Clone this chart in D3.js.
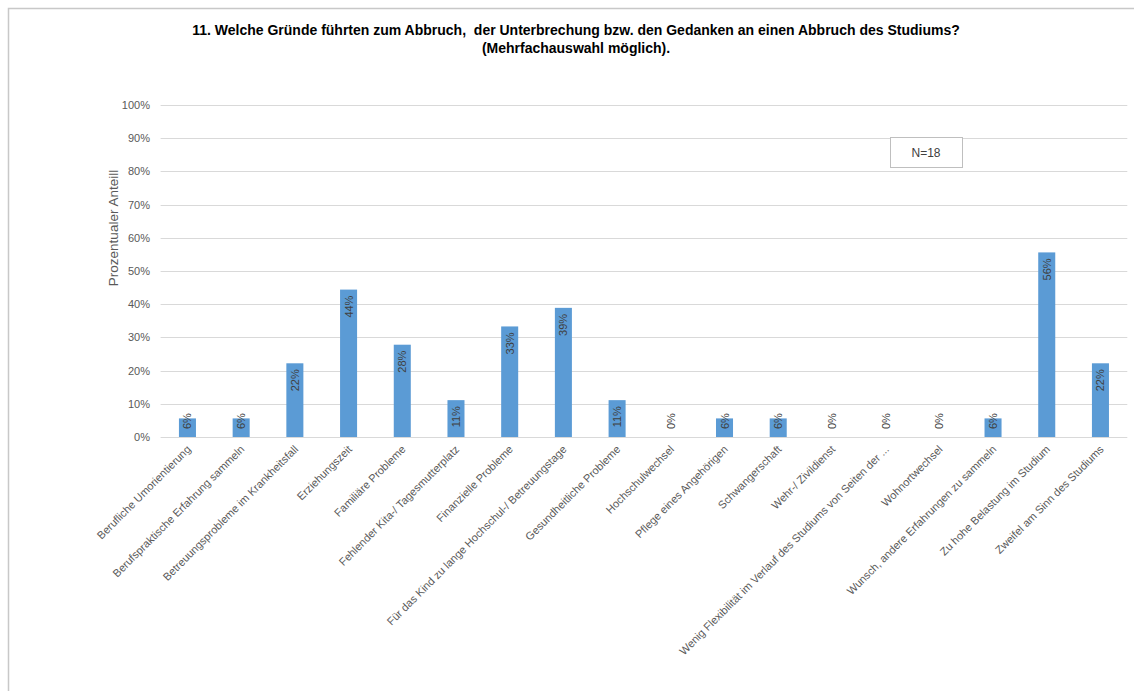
<!DOCTYPE html>
<html>
<head>
<meta charset="utf-8">
<script src="https://cdn.jsdelivr.net/npm/d3@7"></script>
<style>
  html, body { margin: 0; padding: 0; background: #fff; }
  svg { display: block; }
</style>
</head>
<body>
<svg id="chart" width="1134" height="691"></svg>
<script>
const categories = [
  "Berufliche Umorientierung",
  "Berufspraktische Erfahrung sammeln",
  "Betreuungsprobleme im Krankheitsfall",
  "Erziehungszeit",
  "Familiäre Probleme",
  "Fehlender Kita-/ Tagesmutterplatz",
  "Finanzielle Probleme",
  "Für das Kind zu lange Hochschul-/ Betreuungstage",
  "Gesundheitliche Probleme",
  "Hochschulwechsel",
  "Pflege eines Angehörigen",
  "Schwangerschaft",
  "Wehr-/ Zivildienst",
  "Wenig Flexibilität im Verlauf des Studiums von Seiten der ...",
  "Wohnortwechsel",
  "Wunsch, andere Erfahrungen zu sammeln",
  "Zu hohe Belastung im Studium",
  "Zweifel am Sinn des Studiums"
];
const values = [5.6, 5.6, 22.2, 44.4, 27.8, 11.1, 33.3, 38.9, 11.1, 0, 5.6, 5.6, 0, 0, 0, 5.6, 55.6, 22.2];
const valueLabels = ["6%","6%","22%","44%","28%","11%","33%","39%","11%","0%","6%","6%","0%","0%","0%","6%","56%","22%"];
const yTicks = [0, 10, 20, 30, 40, 50, 60, 70, 80, 90, 100];
const titleLines = [
  "11. Welche Gründe führten zum Abbruch,  der Unterbrechung bzw. den Gedanken an einen Abbruch des Studiums?",
  "(Mehrfachauswahl möglich)."
];
const yAxisTitle = "Prozentualer Anteill";
const noteText = "N=18";

const svg = d3.select("#chart");
const font = "'Liberation Sans', Arial, sans-serif";

// outer frame
svg.append("path")
  .attr("d", "M8.5,691 V8.5 H1134")
  .attr("fill", "none").attr("stroke", "#c8c8c8").attr("stroke-width", 1.5);

const x = d3.scaleBand().domain(categories).range([160.6, 1127.3]).paddingInner(0.683).paddingOuter(0.3415);
const y = d3.scaleLinear().domain([0, 100]).range([437, 105]);

// gridlines
svg.append("g").selectAll("line").data(yTicks).join("line")
  .attr("x1", 160.6).attr("x2", 1127.3)
  .attr("y1", d => Math.round(y(d)) + 0.5).attr("y2", d => Math.round(y(d)) + 0.5)
  .attr("stroke", "#d9d9d9").attr("stroke-width", 1);

// y axis tick labels
const yAxis = d3.axisLeft(y).tickValues(yTicks).tickFormat(d => d + "%").tickSize(0).tickPadding(0);
const yg = svg.append("g").attr("transform", "translate(150,0)").call(yAxis);
yg.select(".domain").remove();
yg.selectAll("text").attr("fill", "#595959").style("font-family", font).style("font-size", "11px");

// y axis title
svg.append("text")
  .attr("transform", "translate(118,228) rotate(-90)")
  .attr("text-anchor", "middle")
  .attr("fill", "#595959").style("font-family", font).style("font-size", "13.5px")
  .text(yAxisTitle);

// bars
svg.append("g").selectAll("rect").data(values).join("rect")
  .attr("x", (d, i) => x(categories[i]))
  .attr("width", x.bandwidth())
  .attr("y", d => y(d))
  .attr("height", d => y(0) - y(d))
  .attr("fill", "#5b9bd5");

// value labels
const lbl = svg.append("g").selectAll("text").data(values).join("text")
  .attr("fill", "#404040").style("font-family", font).style("font-size", "11px")
  .text((d, i) => valueLabels[i]);
lbl.each(function(d, i) {
  const t = d3.select(this);
  const len = this.getComputedTextLength();
  const cx = x(categories[i]) + x.bandwidth() / 2 + 4;
  const top = y(d);
  if (y(0) - top > len + 14) {
    t.attr("text-anchor", "end").attr("transform", "translate(" + cx + "," + (top + 6) + ") rotate(-90)");
  } else {
    t.attr("text-anchor", "start").attr("transform", "translate(" + cx + "," + (y(0) - 8) + ") rotate(-90)");
  }
});

// x axis category labels
const xAxis = d3.axisBottom(x).tickSize(0).tickPadding(0);
const xg = svg.append("g").attr("transform", "translate(0," + y(0) + ")").call(xAxis);
xg.select(".domain").remove();
xg.selectAll("text")
  .attr("text-anchor", "end")
  .attr("dy", null)
  .attr("y", 0)
  .attr("transform", "translate(4,13) rotate(-45)")
  .attr("fill", "#595959").style("font-family", font).style("font-size", "11px");

// title
svg.append("g").selectAll("text").data(titleLines).join("text")
  .attr("x", 576).attr("y", (d, i) => 35 + i * 18)
  .attr("text-anchor", "middle")
  .style("white-space", "pre")
  .attr("fill", "#000").style("font-family", font).style("font-size", "14px").style("font-weight", "bold")
  .text(d => d);

// N box
svg.append("rect").attr("x", 890.5).attr("y", 137.5).attr("width", 72).attr("height", 30)
  .attr("fill", "#fff").attr("stroke", "#bfbfbf").attr("stroke-width", 1);
svg.append("text").attr("x", 926).attr("y", 157).attr("text-anchor", "middle")
  .attr("fill", "#404040").style("font-family", font).style("font-size", "12px").text(noteText);
</script>
</body>
</html>
